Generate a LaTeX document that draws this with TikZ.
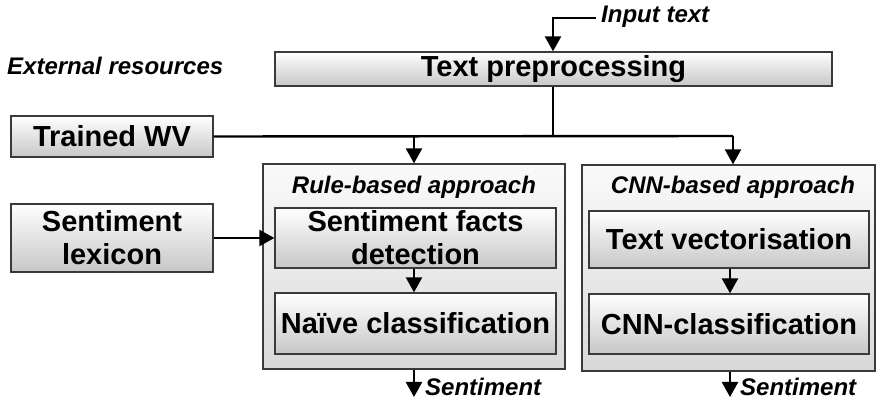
\documentclass[tikz,border=0pt]{standalone}
\usepackage{fontspec}
\setmainfont{Liberation Sans}
\usetikzlibrary{arrows.meta}
\definecolor{bordc}{HTML}{3A3A3A}
\tikzset{
  procbox/.style={draw=bordc, line width=1.3pt, top color=white, bottom color=black!22,
    inner sep=0pt, align=center, font=\fontsize{29}{33}\selectfont\bfseries},
  groupbox/.style={draw=bordc, line width=1.3pt, top color=black!2, bottom color=black!15, inner sep=0pt},
  lbl/.style={font=\fontsize{24}{26}\selectfont\bfseries\itshape, inner sep=0pt},
  conn/.style={line width=2.4pt, black},
  arr/.style={conn, -{Triangle[width=16pt,length=15pt]}},
}
\begin{document}
\begin{tikzpicture}[x=1pt,y=-1pt]
\useasboundingbox (0,0) rectangle (876,403);
% containers
\node[groupbox, minimum width=302pt, minimum height=205pt] (rule) at (414,266.5) {};
\node[groupbox, minimum width=293pt, minimum height=206pt] (cnn) at (728.5,268) {};
\node[lbl] (rulelbl) at (414,187) {Rule-based approach};
\node[lbl] (cnnlbl) at (733,187) {CNN-based approach};
% boxes
\node[procbox, minimum width=557pt, minimum height=34pt] (pre) at (553.5,69) {Text preprocessing};
\node[procbox, minimum width=202pt, minimum height=41pt] (twv) at (112,136.5) {Trained WV};
\node[procbox, minimum width=202pt, minimum height=68pt] (lex) at (112,238) {Sentiment\\lexicon};
\node[procbox, minimum width=281pt, minimum height=60pt] (sfd) at (415.5,238) {Sentiment facts\\detection};
\node[procbox, minimum width=281pt, minimum height=61pt] (naive) at (415.5,323.5) {Naïve classification};
\node[procbox, minimum width=280pt, minimum height=57pt] (tv) at (729,239.5) {Text vectorisation};
\node[procbox, minimum width=280pt, minimum height=60pt] (cnnc) at (729,324) {CNN-classification};
% labels
\node[lbl, anchor=west] (ext) at (7,66) {External resources};
\node[lbl, anchor=west] (inp) at (601,17) {Input text};
\node[lbl, anchor=west] (out1) at (425,387) {Sentiment};
\node[lbl, anchor=west] (out2) at (740,387) {Sentiment};
% coordinates
\coordinate (inpend) at (596,18);
\coordinate (junc) at (553,136);
\coordinate (rjunc) at (733,136);
\coordinate (ljunc) at (414,136);
\coordinate (o1) at (414,397);
\coordinate (o2) at (730,397);
% connectors
\draw[arr] (inpend) -- (553,18) -- (pre.north -| junc);
\draw[conn] (pre.south -| junc) -- (junc);
\draw[conn] (twv.east) -- (rjunc);
\draw[arr] (ljunc) -- (rule.north -| ljunc);
\draw[arr] (rjunc) -- (cnn.north -| rjunc);
\draw[arr] (lex.east) -- (sfd.west);
\draw[arr] (sfd.south -| ljunc) -- (naive.north -| ljunc);
\draw[arr] (tv.south -| o2) -- (cnnc.north -| o2);
\draw[arr] (rule.south -| o1) -- (o1);
\draw[arr] (cnn.south -| o2) -- (o2);
\end{tikzpicture}
\end{document}
